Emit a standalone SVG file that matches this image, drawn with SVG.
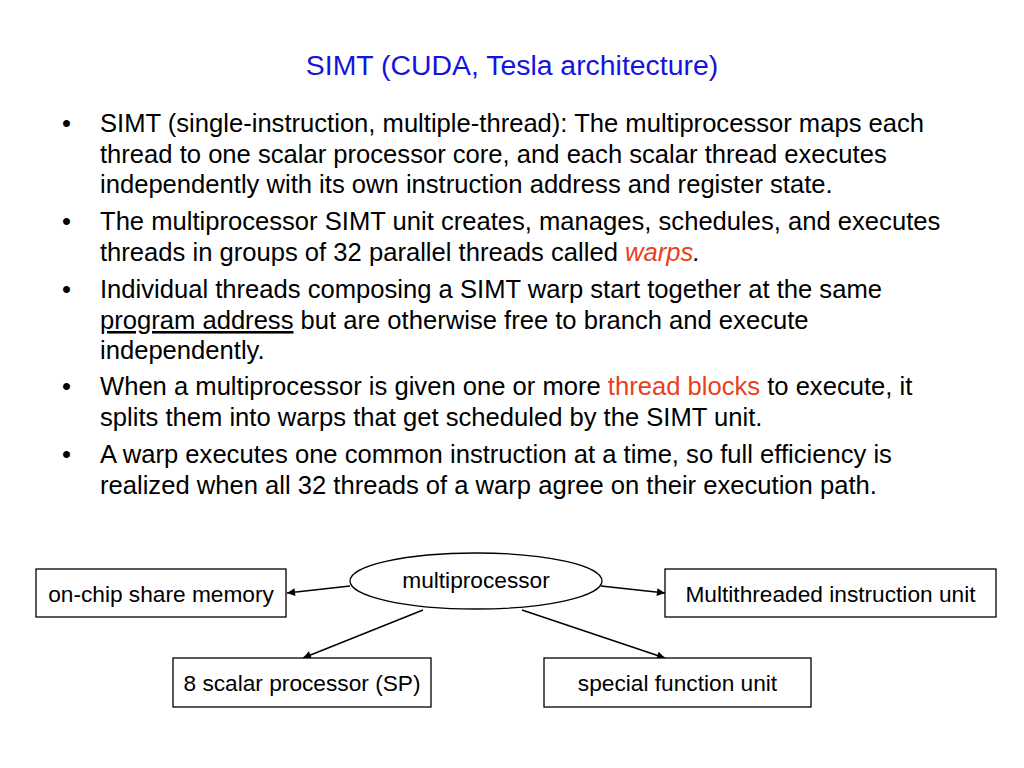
<svg xmlns="http://www.w3.org/2000/svg" width="1024" height="768" viewBox="0 0 1024 768">
<defs>
<style>
.t{font-family:"Liberation Sans",Arial,sans-serif;fill:#000}
.title{font-size:28.4px;fill:#1414dc;text-anchor:middle}
.body{font-size:25.6px}
.red{fill:#e8401c}
.box{fill:#fff;stroke:#000;stroke-width:1.3}
.lbl{font-size:22.7px;text-anchor:middle}
.conn{stroke:#000;stroke-width:1.4;fill:none;marker-end:url(#ah)}
</style>
<marker id="ah" viewBox="0 0 10 10" refX="10" refY="5" markerWidth="9" markerHeight="8" markerUnits="userSpaceOnUse" orient="auto">
<path d="M0,0 L10,5 L0,10 z" fill="#000"/>
</marker>
</defs>
<rect width="1024" height="768" fill="#fff"/>
<text class="t title" x="512" y="75">SIMT (CUDA, Tesla architecture)</text>
<g id="bullets" class="t body">
<text x="62" y="132">•</text>
<text x="100" y="132">SIMT (single-instruction, multiple-thread): The multiprocessor maps each</text>
<text x="100" y="163">thread to one scalar processor core, and each scalar thread executes</text>
<text x="100" y="193">independently with its own instruction address and register state.</text>
<text x="62" y="230">•</text>
<text x="100" y="230">The multiprocessor SIMT unit creates, manages, schedules, and executes</text>
<text x="100" y="261">threads in groups of 32 parallel threads called <tspan class="red" font-style="italic">warps</tspan><tspan font-style="italic">.</tspan></text>
<text x="62" y="298">•</text>
<text x="100" y="298">Individual threads composing a SIMT warp start together at the same</text>
<text x="100" y="329"><tspan text-decoration="underline">program address</tspan> but are otherwise free to branch and execute</text>
<text x="100" y="359">independently.</text>
<text x="62" y="395">•</text>
<text x="100" y="395">When a multiprocessor is given one or more <tspan class="red">thread blocks</tspan> to execute, it</text>
<text x="100" y="426">splits them into warps that get scheduled by the SIMT unit.</text>
<text x="62" y="463">•</text>
<text x="100" y="463">A warp executes one common instruction at a time, so full efficiency is</text>
<text x="100" y="494">realized when all 32 threads of a warp agree on their execution path.</text>
</g>
<g id="connectors">
<line class="conn" x1="350" y1="586" x2="287" y2="593"/>
<line class="conn" x1="601" y1="586" x2="665" y2="593"/>
<line class="conn" x1="423" y1="610" x2="303" y2="658"/>
<line class="conn" x1="522" y1="610" x2="665" y2="658"/>
</g>
<g id="multiprocessor">
<ellipse cx="476" cy="581" rx="126" ry="28" fill="#fff" stroke="#000" stroke-width="1.3"/>
<text class="t lbl" x="476" y="588">multiprocessor</text>
</g>
<g id="shared-memory">
<rect class="box" x="36" y="569" width="250" height="48"/>
<text class="t lbl" x="161" y="602">on-chip share memory</text>
</g>
<g id="instruction-unit">
<rect class="box" x="665" y="569" width="331" height="48"/>
<text class="t lbl" x="830.5" y="602">Multithreaded instruction unit</text>
</g>
<g id="scalar-processor">
<rect class="box" x="173" y="658" width="258" height="49"/>
<text class="t lbl" x="302" y="691">8 scalar processor (SP)</text>
</g>
<g id="special-function">
<rect class="box" x="544" y="658" width="267" height="49"/>
<text class="t lbl" x="677.5" y="691">special function unit</text>
</g>
</svg>
